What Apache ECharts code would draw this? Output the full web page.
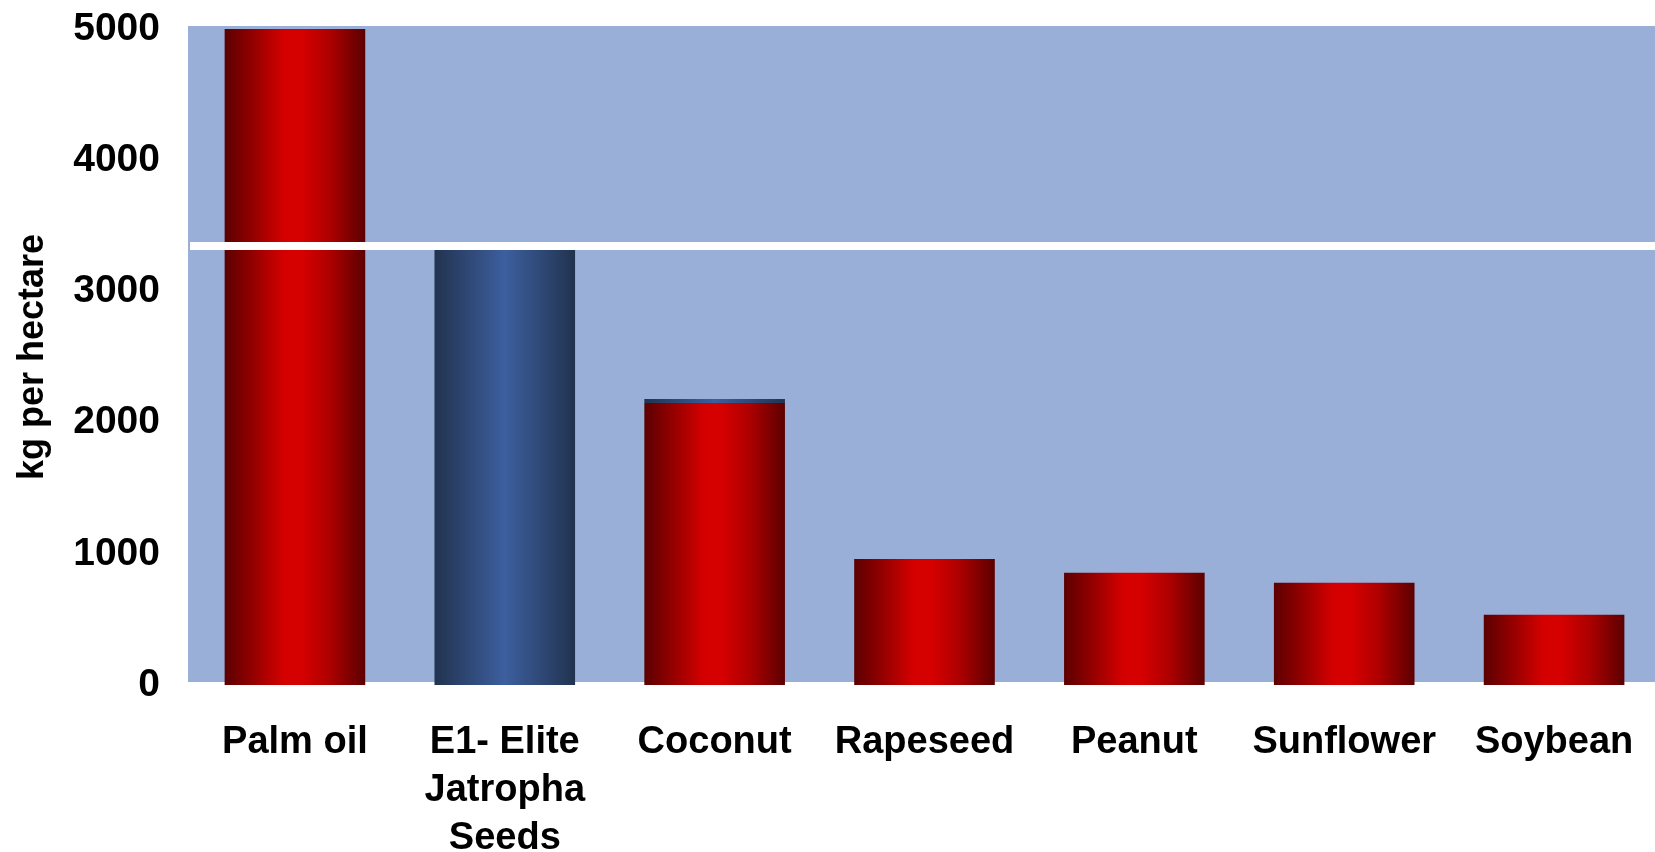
<!DOCTYPE html>
<html>
<head>
<meta charset="utf-8">
<script src="https://cdn.jsdelivr.net/npm/echarts@6/dist/echarts.min.js"></script>
<style>
  html, body { margin: 0; padding: 0; background: #ffffff; }
  #chart { width: 1655px; height: 852px; }
</style>
</head>
<body>
<div id="chart"></div>
<script>
// Oil yield per crop, kg per hectare
const categories = ['Palm oil', 'E1- Elite\nJatropha\nSeeds', 'Coconut', 'Rapeseed', 'Peanut', 'Sunflower', 'Soybean'];
const yields = [5000, 3320, 2150, 960, 855, 780, 535];
const capValues = [0, 0, 30, 0, 0, 0, 0];      // thin blue band on top of coconut
const highlightIndex = 1;                        // Jatropha bar drawn in blue
const referenceLevel = 3350;                     // white horizontal rule
const yTicks = [0, 1000, 2000, 3000, 4000, 5000];

const FONT = '"Liberation Sans", Arial, sans-serif';

const redFill = new echarts.graphic.LinearGradient(0, 0, 1, 0, [
  { offset: 0, color: '#5c0000' },
  { offset: 0.18, color: '#8e0000' },
  { offset: 0.42, color: '#d40000' },
  { offset: 0.55, color: '#d60000' },
  { offset: 0.75, color: '#ad0000' },
  { offset: 1, color: '#5c0000' }
]);
const blueFill = new echarts.graphic.LinearGradient(0, 0, 1, 0, [
  { offset: 0, color: '#21334f' },
  { offset: 0.5, color: '#3d5f9f' },
  { offset: 1, color: '#21334f' }
]);

const mainData = yields.map((v, i) => ({
  value: v,
  itemStyle: { color: i === highlightIndex ? blueFill : redFill }
}));
const capData = capValues.map(v => (v > 0 ? { value: v, itemStyle: { color: blueFill } } : '-'));

const chart = echarts.init(document.getElementById('chart'), null, { renderer: 'canvas' });

chart.setOption({
  animation: false,
  backgroundColor: '#ffffff',
  graphic: [{
    type: 'rect',
    z: -10,
    silent: true,
    shape: { x: 188, y: 26, width: 1467, height: 656 },
    style: { fill: '#9aafd8' }
  }],
  grid: {
    left: 190, top: 29, width: 1469, height: 656,
    containLabel: false,
    outerBoundsMode: 'none'
  },
  xAxis: {
    type: 'category',
    data: categories,
    axisLine: { show: false },
    axisTick: { show: false },
    axisLabel: {
      interval: 0,
      margin: 34,
      color: '#000',
      fontFamily: FONT,
      fontWeight: 'bold',
      fontSize: 38,
      lineHeight: 48
    }
  },
  yAxis: {
    type: 'value',
    min: 0,
    max: 5000,
    interval: 1000,
    name: 'kg per hectare',
    nameLocation: 'middle',
    nameGap: 139,
    nameRotate: 90,
    nameTextStyle: {
      color: '#000',
      fontFamily: FONT,
      fontWeight: 'bold',
      fontSize: 36
    },
    axisLine: { show: false },
    axisTick: { show: false },
    splitLine: { show: false },
    axisLabel: {
      margin: 30,
      color: '#000',
      fontFamily: FONT,
      fontWeight: 'bold',
      fontSize: 39,
      padding: [0, 0, 6, 0],
      formatter: v => (yTicks.includes(v) ? String(v) : '')
    }
  },
  series: [
    {
      type: 'bar',
      stack: 'yield',
      barCategoryGap: '33%',
      data: mainData,
      markLine: {
        silent: true,
        symbol: 'none',
        label: { show: false },
        lineStyle: { color: '#ffffff', width: 8, type: 'solid' },
        data: [{ yAxis: referenceLevel }]
      },
      z: 2
    },
    {
      type: 'bar',
      stack: 'yield',
      barCategoryGap: '33%',
      data: capData,
      z: 2
    }
  ]
});
</script>
</body>
</html>
